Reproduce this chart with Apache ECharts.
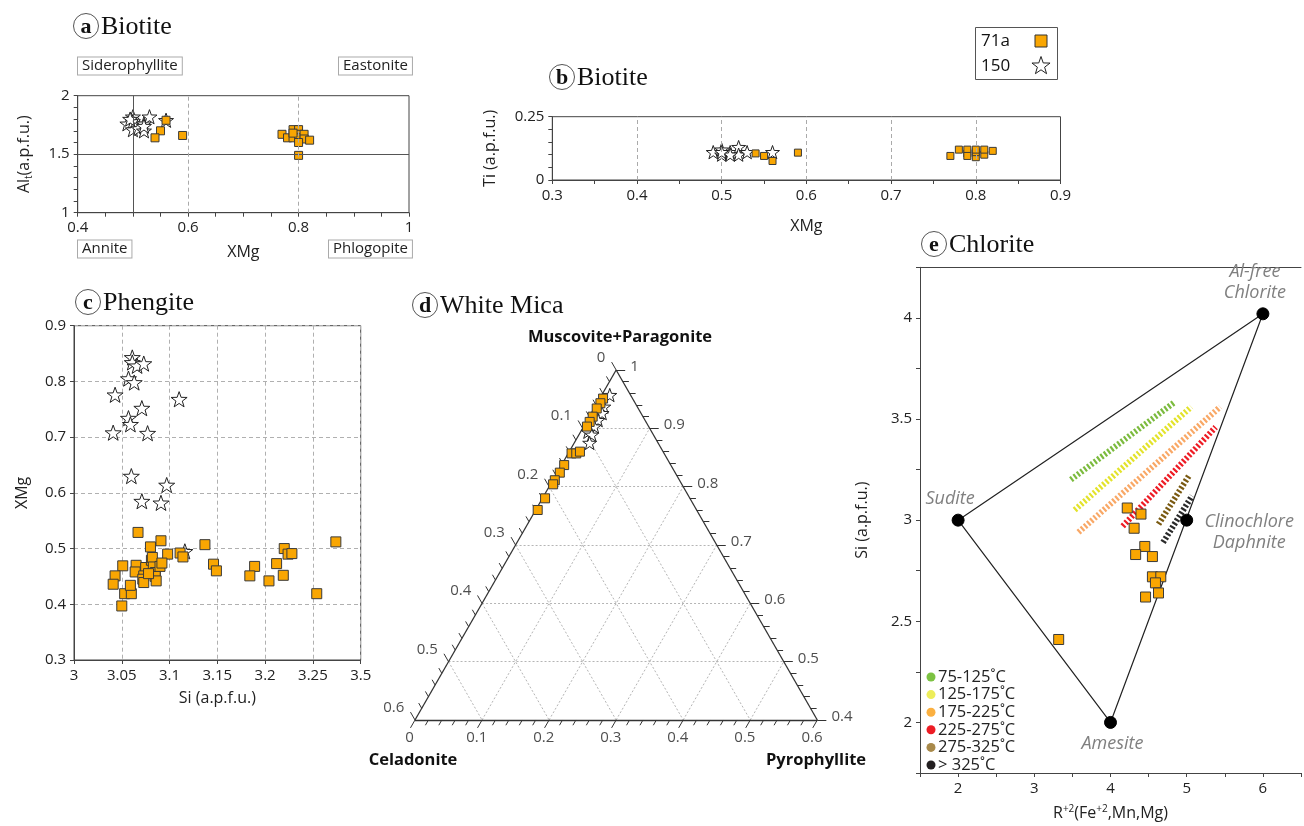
<!DOCTYPE html>
<html><head><meta charset="utf-8">
<script src="https://cdn.jsdelivr.net/npm/echarts@6/dist/echarts.min.js"></script>
<style>html,body{margin:0;padding:0;background:#fff}#c{width:1304px;height:826px}</style>
</head><body><div id="c"></div>
<script>
// ---------- DATA ----------
// (a) Biotite: XMg vs Al_t
const aStars150 = [[0.49,1.76],[0.50,1.82],[0.50,1.78],[0.51,1.75],[0.50,1.71],[0.51,1.72],[0.52,1.76],[0.52,1.70],[0.53,1.82],[0.52,1.74],[0.495,1.80],[0.56,1.79]];
const aSquares71a = [[0.56,1.79],[0.55,1.70],[0.54,1.64],[0.59,1.66],[0.77,1.67],[0.78,1.64],[0.79,1.64],[0.79,1.71],[0.80,1.71],[0.80,1.67],[0.80,1.64],[0.81,1.67],[0.81,1.63],[0.80,1.60],[0.82,1.62],[0.80,1.49],[0.79,1.68]];
const aXLabels = ['0.4','0.6','0.8','1'];
const aYLabels = ['1','1.5','2'];
// (b) Biotite: XMg vs Ti
const bStars150 = [[0.49,0.11],[0.50,0.10],[0.50,0.12],[0.51,0.11],[0.52,0.13],[0.52,0.10],[0.53,0.11],[0.56,0.11],[0.51,0.10],[0.50,0.11]];
const bSquares71a = [[0.54,0.105],[0.55,0.095],[0.56,0.075],[0.59,0.108],[0.77,0.095],[0.78,0.12],[0.79,0.105],[0.79,0.12],[0.79,0.095],[0.80,0.09],[0.80,0.11],[0.80,0.12],[0.81,0.10],[0.81,0.12],[0.82,0.115]];
const bXLabels = ['0.3','0.4','0.5','0.6','0.7','0.8','0.9'];
const bYLabels = ['0','0.25'];
// (c) Phengite: Si vs XMg
const cStars150 = [[3.061,0.843],[3.061,0.834],[3.066,0.828],[3.073,0.832],[3.057,0.805],[3.063,0.798],[3.043,0.776],[3.110,0.768],[3.071,0.752],[3.057,0.734],[3.059,0.723],[3.041,0.708],[3.077,0.707],[3.060,0.630],[3.097,0.614],[3.071,0.585],[3.091,0.582],[3.116,0.495]];
const cSquares71a = [[3.067,0.529],[3.091,0.514],[3.080,0.503],[3.137,0.507],[3.274,0.512],[3.220,0.500],[3.224,0.490],[3.228,0.491],[3.098,0.490],[3.111,0.492],[3.114,0.485],[3.212,0.473],[3.146,0.472],[3.149,0.460],[3.189,0.468],[3.184,0.451],[3.219,0.452],[3.204,0.442],[3.254,0.419],[3.051,0.469],[3.043,0.451],[3.041,0.436],[3.053,0.419],[3.060,0.419],[3.059,0.434],[3.050,0.397],[3.065,0.470],[3.064,0.458],[3.075,0.466],[3.073,0.451],[3.072,0.445],[3.073,0.439],[3.081,0.479],[3.082,0.484],[3.083,0.467],[3.085,0.457],[3.085,0.450],[3.086,0.442],[3.090,0.468],[3.092,0.474],[3.078,0.455]];
const cXLabels = ['3','3.05','3.1','3.15','3.2','3.25','3.5'];
const cYLabels = ['0.3','0.4','0.5','0.6','0.7','0.8','0.9'];
// (d) White mica ternary: [muscovite+paragonite, pyrophyllite] (celadonite = 1 - mu - pyr)
const dSquares71a = [[0.951,0.005],[0.943,0.005],[0.934,0.004],[0.920,0.005],[0.911,0.005],[0.903,0.005],[0.857,0.005],[0.857,0.012],[0.860,0.016],[0.837,0.004],[0.824,0.004],[0.811,0.003],[0.804,0.004],[0.780,0.004],[0.760,0.003]];
const dStars150 = [[0.957,0.012],[0.937,0.013],[0.926,0.016],[0.914,0.016],[0.903,0.016],[0.894,0.011],[0.889,0.019],[0.875,0.023]];
const dLeftLabels = ['0','0.1','0.2','0.3','0.4','0.5','0.6'];
const dRightLabels = ['1','0.9','0.8','0.7','0.6','0.5','0.4'];
const dBottomLabels = ['0','0.1','0.2','0.3','0.4','0.5','0.6'];
// (e) Chlorite: R2+ vs Si
const eSquares71a = [[4.22,3.06],[4.40,3.03],[4.31,2.96],[4.45,2.87],[4.33,2.83],[4.55,2.82],[4.55,2.72],[4.66,2.72],[4.59,2.69],[4.63,2.64],[4.46,2.62],[3.32,2.41]];
const eVertices = [[2,3],[6,4.02],[5,3],[4,2]];
const eVertexNames = ['Sudite','Al-free\nChlorite','Clinochlore\nDaphnite','Amesite'];
const eOutline = [[2,3],[6,4.02],[4,2],[2,3]];
const eIsotherms = [[3.48,3.20,4.83,3.58],[3.53,3.05,5.06,3.56],[3.58,2.94,5.44,3.56],[4.16,2.97,5.38,3.46],[4.63,2.98,5.03,3.22],[4.69,2.89,5.07,3.12]];
const eTempLabels = ['75-125˚C','125-175˚C','175-225˚C','225-275˚C','275-325˚C','> 325˚C'];
const eLineColors = ['#7cbb3e','#e3e32b','#f9a866','#ee1c25','#7a5a12','#2a2a2a'];
const eLegendColors = ['#7cc242','#eded5a','#fbb040','#ed1c24','#a8894a','#231f20'];
const eXLabels = ['2','3','4','5','6'];
const eYLabels = ['2','2.5','3','3.5','4'];

// ---------- STYLE ----------
const F = "'Open Sans', sans-serif";
const SERIF = "'Liberation Serif', serif";
const ORANGE = '#f9a602';
const STAR = 'path://M0,-10L2.35,-3.24L9.51,-3.09L3.8,1.24L5.88,8.09L0,4L-5.88,8.09L-3.8,1.24L-9.51,-3.09L-2.35,-3.24Z';
const STAR_PTS = [[0,-10],[2.35,-3.24],[9.51,-3.09],[3.8,1.24],[5.88,8.09],[0,4],[-5.88,8.09],[-3.8,1.24],[-9.51,-3.09],[-2.35,-3.24]];
const AX = '#444';

function pick(labels){
  return function(v){ for (const l of labels){ if (Math.abs(parseFloat(l)-v) < 1e-6) return l; } return ''; };
}
function vAxis(grid, min, max, interval, labels, extra){
  return Object.assign({
    type:'value', gridIndex:grid, min, max, interval,
    axisLine:{show:true, onZero:false, lineStyle:{color:AX, width:1}},
    axisTick:{show:true, length:4, lineStyle:{color:AX}},
    axisLabel:{fontFamily:F, fontSize:15, color:'#222', formatter: labels ? pick(labels) : undefined, hideOverlap:false},
    splitLine:{show:false},
    nameTextStyle:{fontFamily:F, fontSize:16, color:'#222'}
  }, extra || {});
}
function squares(data, idx, size){
  return {type:'scatter', name:'71a', xAxisIndex:idx, yAxisIndex:idx, data, symbol:'rect', symbolSize:size, clip:false,
    itemStyle:{color:ORANGE, borderColor:'#3a3a3a', borderWidth:1, opacity:1}, z:4, silent:true};
}
function stars(data, idx, size){
  return {type:'scatter', name:'150', xAxisIndex:idx, yAxisIndex:idx, data, symbol:STAR, symbolKeepAspect:true, symbolSize:size, clip:false,
    itemStyle:{color:'#fff', borderColor:'#222', borderWidth:1, opacity:1}, z:3, silent:true};
}

// ternary -> cartesian (side of full triangle = 1)
const S3 = Math.sqrt(3)/2;
function tern(cel, pyr, mu){ return [pyr + mu/2, mu*S3]; }

const dGrid = [], dEdges = [], dTicks = [], dLabelPts = [];
for (let k=1;k<=5;k++){
  const v = k/10;
  const m = 0.4 + v;
  dGrid.push({coords:[tern(1-m,0,m), tern(0,1-m,m)]});
  dGrid.push({coords:[tern(v,0,1-v), tern(v,0.6-v,0.4)]});
  dGrid.push({coords:[tern(0.6-v,v,0.4), tern(0,v,1-v)]});
}
dEdges.push({coords:[tern(0,0,1), tern(0.6,0,0.4)]});
dEdges.push({coords:[tern(0.6,0,0.4), tern(0,0.6,0.4)]});
dEdges.push({coords:[tern(0,0.6,0.4), tern(0,0,1)]});
for (let i=0;i<=30;i++){
  const v = i*0.02, major = i%5===0, L = major?0.0135:0.009;
  let b = tern(0.6-v, v, 0.4); dTicks.push({coords:[b,[b[0]-0.5*L, b[1]-S3*L]]});
  let l = tern(v, 0, 1-v);     dTicks.push({coords:[l,[l[0]-0.5*L, l[1]+S3*L]]});
  let r = tern(0, v, 1-v);     dTicks.push({coords:[r,[r[0]+L, r[1]]]});
}
dLeftLabels.forEach((t,i)=>{ const v=i/10, p=tern(v,0,1-v); dLabelPts.push({value:[p[0]-0.016,p[1]+0.018], label:{formatter:t, align:'right'}}); });
dRightLabels.forEach((t,i)=>{ const v=i/10, p=tern(0,v,1-v); dLabelPts.push({value:[p[0]+0.021,p[1]+0.005], label:{formatter:t, align:'left'}}); });
dBottomLabels.forEach((t,i)=>{ const v=i/10, p=tern(0.6-v,v,0.4); dLabelPts.push({value:[p[0]-0.008,p[1]-0.026], label:{formatter:t, align:'center'}}); });

const dSq = dSquares71a.map(([mu,pyr])=>tern(1-mu-pyr,pyr,mu));
const dSt = dStars150.map(([mu,pyr])=>tern(1-mu-pyr,pyr,mu));

// ---------- CHART ----------
const chart = echarts.init(document.getElementById('c'), null, {renderer:'canvas'});

function circ(cx, cy, letter, title){
  return [
    {type:'circle', shape:{cx, cy, r:12.5}, style:{fill:'#fff', stroke:'#555', lineWidth:1}, z:10},
    {type:'text', x:cx, y:cy+1, style:{text:letter, fontFamily:SERIF, fontSize:22, fontWeight:'bold', fill:'#111', align:'center', verticalAlign:'middle'}, z:11},
    {type:'text', x:cx+15, y:cy+1, style:{text:title, fontFamily:SERIF, fontSize:26, fill:'#111', align:'left', verticalAlign:'middle'}, z:11}
  ];
}
function boxText(x, y, text){
  return {type:'text', x, y, style:{text, fontFamily:F, fontSize:15, fill:'#222', backgroundColor:'#fff', borderColor:'#aaa', borderWidth:1, padding:[1,4,1,4], verticalAlign:'middle', align:'left'}, z:10};
}

const graphics = [].concat(
  circ(86,26,'a','Biotite'), circ(562,77,'b','Biotite'), circ(88,302,'c','Phengite'),
  circ(425,305,'d','White Mica'), circ(934,244,'e','Chlorite'),
  [boxText(78,66,'Siderophyllite'), boxText(339,66,'Eastonite'), boxText(78,249,'Annite'), boxText(329,249,'Phlogopite')],
  [
    {type:'rect', shape:{x:975.5,y:27.5,width:82,height:52}, style:{fill:'#fff', stroke:'#555', lineWidth:1}, z:10},
    {type:'text', x:981, y:41, style:{text:'71a', fontFamily:F, fontSize:17, fill:'#111', verticalAlign:'middle'}, z:11},
    {type:'text', x:981, y:66, style:{text:'150', fontFamily:F, fontSize:17, fill:'#111', verticalAlign:'middle'}, z:11},
    {type:'rect', shape:{x:1035,y:35,width:12,height:12}, style:{fill:ORANGE, stroke:'#333', lineWidth:1}, z:11},
    {type:'polygon', shape:{points:STAR_PTS.map(p=>[1041+p[0]*0.95, 66+p[1]*0.95])}, style:{fill:'#fff', stroke:'#222', lineWidth:1}, z:11}
  ],
  [
    {type:'text', x:620, y:337, style:{text:'Muscovite+Paragonite', fontFamily:F, fontSize:16.5, fontWeight:'bold', fill:'#111', align:'center', verticalAlign:'middle'}},
    {type:'text', x:413, y:760, style:{text:'Celadonite', fontFamily:F, fontSize:16.5, fontWeight:'bold', fill:'#111', align:'center', verticalAlign:'middle'}},
    {type:'text', x:816, y:760, style:{text:'Pyrophyllite', fontFamily:F, fontSize:16.5, fontWeight:'bold', fill:'#111', align:'center', verticalAlign:'middle'}}
  ],
  eTempLabels.flatMap((t,i)=>[
    {type:'circle', shape:{cx:931, cy:677+i*17.6, r:4.5}, style:{fill:eLegendColors[i]}, z:10},
    {type:'text', x:938, y:677+i*17.6, style:{text:t, fontFamily:F, fontSize:16.5, fill:'#222', verticalAlign:'middle'}, z:10}
  ])
);

const option = {
  animation:false,
  backgroundColor:'#fff',
  graphic: graphics,
  grid:[
    {left:77.7, top:95.7, width:331.3, height:117, show:true, borderColor:AX, borderWidth:1, backgroundColor:'transparent'},
    {left:552.3, top:116.7, width:508.2, height:63.3, show:true, borderColor:AX, borderWidth:1, backgroundColor:'transparent'},
    {left:74, top:325.7, width:286.7, height:334.3, show:true, borderColor:AX, borderWidth:1, backgroundColor:'transparent'},
    {left:415, top:370, width:402.3, height:350},
    {left:920, top:267.3, width:386, height:508.7}
  ],
  xAxis:[
    vAxis(0,0.4,1,0.05,aXLabels,{name:'XMg', nameLocation:'middle', nameGap:32}),
    vAxis(1,0.3,0.9,0.05,bXLabels,{name:'XMg', nameLocation:'middle', nameGap:38}),
    vAxis(2,3,3.3,0.05,null,{name:'Si (a.p.f.u.)', nameLocation:'middle', nameGap:30,
      axisLabel:{fontFamily:F, fontSize:15, color:'#222', formatter:(v)=>cXLabels[Math.round((v-3)/0.05)]},
      splitLine:{show:true, lineStyle:{type:[4,3], color:'#b0b0b0'}}}),
    {type:'value', gridIndex:3, min:0.2, max:0.8, show:false},
    vAxis(4,1.5,6.5,0.5,eXLabels,{name:'R{sup|+2}(Fe{sup|+2},Mn,Mg)', nameLocation:'middle', nameGap:31,
      nameTextStyle:{fontFamily:F, fontSize:16, color:'#222', rich:{sup:{fontFamily:F, fontSize:10, verticalAlign:'top', padding:[0,0,8,0], color:'#222'}}}}),
    {type:'value', gridIndex:4, min:1.5, max:6.5, position:'top', axisLine:{show:true, lineStyle:{color:AX}}, axisTick:{show:false}, axisLabel:{show:false}, splitLine:{show:false}}
  ],
  yAxis:[
    vAxis(0,1,2,0.1,aYLabels,{name:'Al{sub|t}(a.p.f.u.)', nameLocation:'middle', nameGap:44,
      nameTextStyle:{fontFamily:F, fontSize:16, color:'#222', rich:{sub:{fontFamily:F, fontSize:10, verticalAlign:'bottom', padding:[8,0,0,0], color:'#222'}}}}),
    vAxis(1,0,0.25,0.05,bYLabels,{name:'Ti (a.p.f.u.)', nameLocation:'middle', nameGap:54}),
    vAxis(2,0.3,0.9,0.1,cYLabels,{name:'XMg', nameLocation:'middle', nameGap:44,
      splitLine:{show:true, lineStyle:{type:[4,3], color:'#b0b0b0'}}}),
    {type:'value', gridIndex:3, min:0.3464, max:0.8660, show:false},
    vAxis(4,1.75,4.25,0.25,eYLabels,{name:'Si (a.p.f.u.)', nameLocation:'middle', nameGap:50})
  ],
  series:[
    Object.assign(stars(aStars150,0,15), {markLine:{silent:true, symbol:'none', label:{show:false}, animation:false,
      data:[
        {xAxis:0.5, lineStyle:{type:'solid', color:'#555', width:1}},
        {yAxis:1.5, lineStyle:{type:'solid', color:'#555', width:1}},
        {xAxis:0.6, lineStyle:{type:[4,3], color:'#aaa', width:1}},
        {xAxis:0.8, lineStyle:{type:[4,3], color:'#aaa', width:1}}
      ]}}),
    squares(aSquares71a,0,8),
    Object.assign(stars(bStars150,1,14), {markLine:{silent:true, symbol:'none', label:{show:false}, animation:false,
      data:[0.4,0.5,0.6,0.7,0.8].map(v=>({xAxis:v, lineStyle:{type:[4,3], color:'#aaa', width:1}}))}}),
    squares(bSquares71a,1,7),
    stars(cStars150,2,16),
    squares(cSquares71a,2,10),
    {type:'lines', coordinateSystem:'cartesian2d', xAxisIndex:3, yAxisIndex:3, data:dGrid, silent:true, clip:false,
      lineStyle:{color:'#b5b5b5', width:1, type:[2,2], opacity:1}, z:1},
    {type:'lines', coordinateSystem:'cartesian2d', xAxisIndex:3, yAxisIndex:3, data:dEdges, silent:true, clip:false,
      lineStyle:{color:'#333', width:1.3, opacity:1}, z:2},
    {type:'lines', coordinateSystem:'cartesian2d', xAxisIndex:3, yAxisIndex:3, data:dTicks, silent:true, clip:false,
      lineStyle:{color:'#333', width:1, opacity:1}, z:2},
    {type:'scatter', xAxisIndex:3, yAxisIndex:3, data:dLabelPts, symbolSize:0, silent:true, clip:false,
      label:{show:true, position:'inside', fontFamily:F, fontSize:15, color:'#222', verticalAlign:'middle'}},
    stars(dSt,3,14),
    squares(dSq,3,9),
    {type:'line', xAxisIndex:4, yAxisIndex:4, data:eOutline, symbol:'none', silent:true,
      lineStyle:{color:'#222', width:1.2}, z:2},
    ...eIsotherms.map((s,i)=>({type:'line', xAxisIndex:4, yAxisIndex:4, data:[[s[0],s[1]],[s[2],s[3]]], symbol:'none', silent:true,
      lineStyle:{color:eLineColors[i], width:6, type:[2.2,2], cap:'butt'}, z:2})),
    {type:'scatter', xAxisIndex:4, yAxisIndex:4, symbol:'circle', symbolSize:12, silent:true, clip:false,
      itemStyle:{color:'#000', borderColor:'#000', borderWidth:1, opacity:1}, z:3,
      label:{show:true, fontFamily:F, fontSize:18, fontStyle:'italic', color:'#808080', lineHeight:21},
      data:eVertices.map((v,i)=>{
        const cfg = [
          {position:'top', distance:4, offset:[-8,0], align:'center'},
          {position:'top', distance:4, offset:[-8,0], align:'center'},
          {position:'right', distance:0, offset:[56,12], align:'center'},
          {position:'bottom', distance:4, offset:[2,0], align:'center'}
        ][i];
        return {value:v, label:Object.assign({formatter:eVertexNames[i]}, cfg)};
      })},
    squares(eSquares71a,4,10)
  ]
};
chart.setOption(option);
</script></body></html>
